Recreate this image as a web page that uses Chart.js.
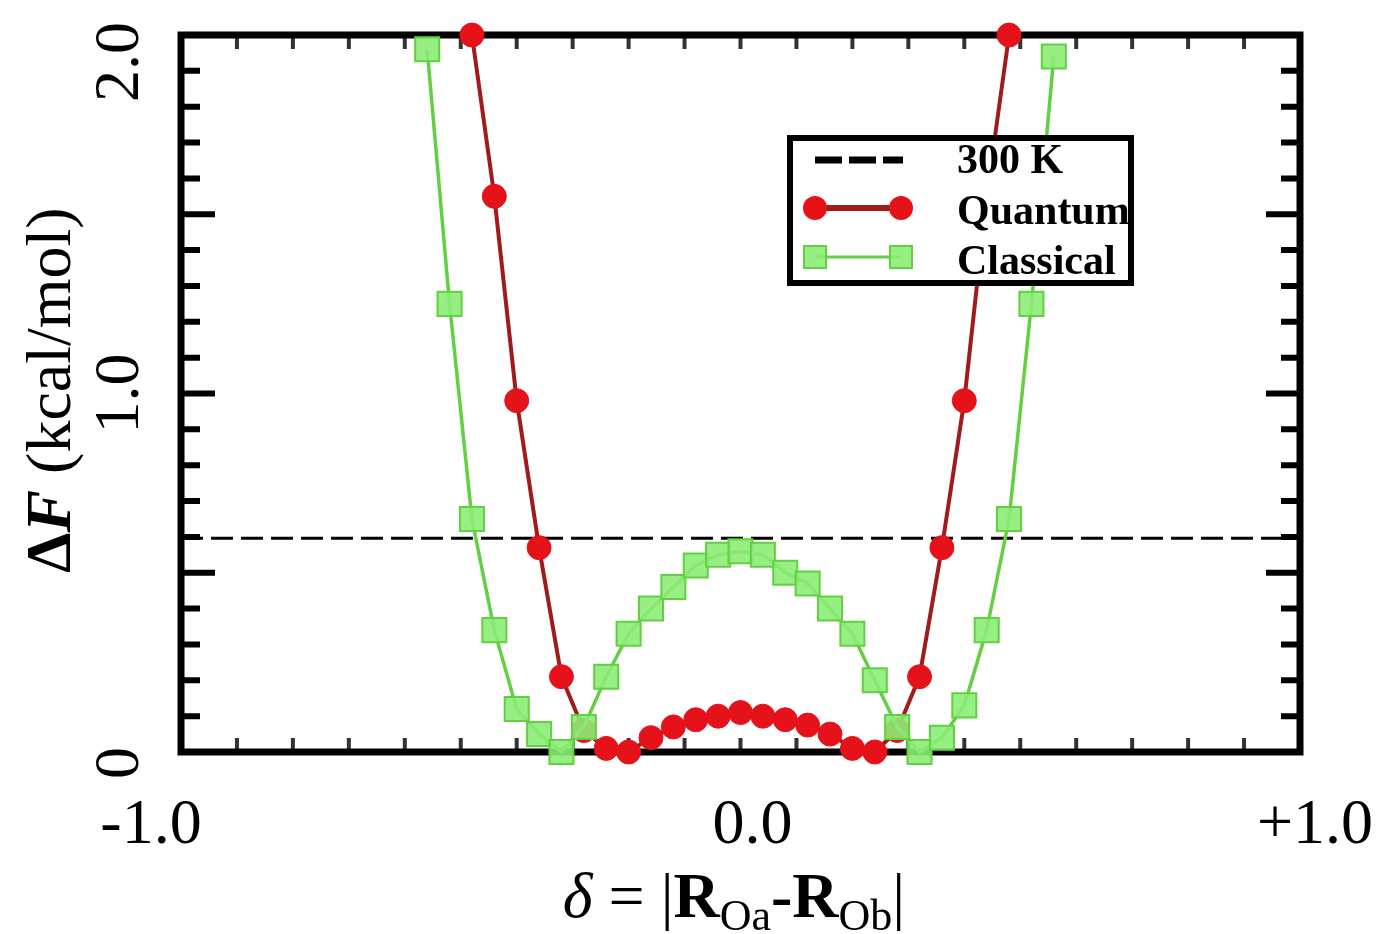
<!DOCTYPE html>
<html>
<head>
<meta charset="utf-8">
<script src="https://cdn.jsdelivr.net/npm/chart.js@4/dist/chart.umd.min.js"></script>
<style>
html, body { margin: 0; padding: 0; background: #fff; }
canvas { display: block; }
</style>
</head>
<body>
<canvas id="canvas1" width="1380" height="934"></canvas>
<script>
// delta grid and free energy (kcal/mol)
const deltaQuantum = [-0.48, -0.44, -0.40, -0.36, -0.32, -0.28, -0.24, -0.20, -0.16, -0.12, -0.08, -0.04, 0,
    0.04, 0.08, 0.12, 0.16, 0.20, 0.24, 0.28, 0.32, 0.36, 0.40, 0.44, 0.48];
const freeQuantum = [2.00, 1.55, 0.98, 0.57, 0.21, 0.06, 0.01, 0.00, 0.04, 0.07, 0.09, 0.10, 0.11,
    0.10, 0.09, 0.075, 0.05, 0.01, 0.00, 0.06, 0.21, 0.57, 0.98, 1.55, 2.00];

const deltaClassical = [-0.56, -0.52, -0.48, -0.44, -0.40, -0.36, -0.32, -0.28, -0.24, -0.20, -0.16, -0.12, -0.08, -0.04, 0,
    0.04, 0.08, 0.12, 0.16, 0.20, 0.24, 0.28, 0.32, 0.36, 0.40, 0.44, 0.48, 0.52, 0.56];
const freeClassical = [1.96, 1.25, 0.65, 0.34, 0.12, 0.05, 0.00, 0.07, 0.21, 0.33, 0.40, 0.46, 0.52, 0.55, 0.56,
    0.55, 0.50, 0.47, 0.40, 0.33, 0.20, 0.07, 0.00, 0.04, 0.13, 0.34, 0.65, 1.25, 1.94];

// thermal energy kT at 300 K
const kT300 = 0.596;

const xTickValues = [-1, 0, 1];
const xTickLabels = ['-1.0', '0.0', '+1.0'];
const yTickValues = [0, 1, 2];
const yTickLabels = ['0', '1.0', '2.0'];

const legendLabels = ['300 K', 'Quantum', 'Classical'];

const SERIF = "'Liberation Serif', 'Times New Roman', serif";
const RED_LINE = '#a01c1c';
const RED_DOT = '#e5121a';
const GREEN_LINE = '#62d040';
const GREEN_BOX = 'rgba(140, 236, 118, 0.9)';

function drawRich(ctx, parts, x, y) {
    let total = 0;
    parts.forEach(p => { ctx.font = p.font; p.w = ctx.measureText(p.t).width; total += p.w; });
    let cx = x - total / 2;
    ctx.textAlign = 'left';
    parts.forEach(p => {
        ctx.font = p.font;
        ctx.fillText(p.t, cx, y + (p.dy || 0));
        cx += p.w;
    });
}

const frameAndText = {
    id: 'frameAndText',
    beforeDatasetsDraw(chart) {
        const {ctx, chartArea: a, scales: {x, y}} = chart;
        ctx.save();
        ctx.lineCap = 'butt';

        // inward ticks, x every 0.1 on top and bottom
        ctx.strokeStyle = '#333';
        ctx.lineWidth = 4;
        for (let k = -9; k <= 9; k++) {
            const px = x.getPixelForValue(k / 10);
            ctx.beginPath();
            ctx.moveTo(px, a.bottom); ctx.lineTo(px, a.bottom - 14);
            ctx.moveTo(px, a.top); ctx.lineTo(px, a.top + 14);
            ctx.stroke();
        }
        // y every 0.1, longer at 0.5
        ctx.strokeStyle = '#000';
        ctx.lineWidth = 6;
        for (let k = 1; k < 20; k++) {
            const py = y.getPixelForValue(k / 10);
            const len = (k % 5 === 0) ? 34 : 19;
            ctx.beginPath();
            ctx.moveTo(a.left, py); ctx.lineTo(a.left + len, py);
            ctx.moveTo(a.right, py); ctx.lineTo(a.right - len, py);
            ctx.stroke();
        }

        // frame
        ctx.lineWidth = 7;
        ctx.strokeRect(a.left, a.top, a.right - a.left, a.bottom - a.top);

        // tick labels
        ctx.fillStyle = '#000';
        ctx.font = '64px ' + SERIF;
        ctx.textBaseline = 'alphabetic';
        ctx.textAlign = 'center';
        const xShift = [-30, 12, 15];
        xTickValues.forEach((v, i) => {
            ctx.fillText(xTickLabels[i], x.getPixelForValue(v) + xShift[i], 843);
        });
        const yShift = [11, 0, 27];
        ctx.textBaseline = 'middle';
        yTickValues.forEach((v, i) => {
            ctx.save();
            ctx.translate(121, y.getPixelForValue(v) + yShift[i]);
            ctx.rotate(-Math.PI / 2);
            ctx.fillText(yTickLabels[i], 0, 0);
            ctx.restore();
        });

        // axis titles
        ctx.textBaseline = 'alphabetic';
        const big = 64, sub = 44;
        drawRich(ctx, [
            {t: '\u03B4', font: 'italic ' + big + 'px ' + SERIF},
            {t: ' = ', font: big + 'px ' + SERIF},
            {t: '|', font: big + 'px ' + SERIF},
            {t: 'R', font: 'bold ' + big + 'px ' + SERIF},
            {t: 'Oa', font: sub + 'px ' + SERIF, dy: 13},
            {t: '-', font: 'bold ' + big + 'px ' + SERIF},
            {t: 'R', font: 'bold ' + big + 'px ' + SERIF},
            {t: 'Ob', font: sub + 'px ' + SERIF, dy: 13},
            {t: '|', font: big + 'px ' + SERIF}
        ], 734, 917);

        ctx.save();
        ctx.translate(70, 390);
        ctx.rotate(-Math.PI / 2);
        drawRich(ctx, [
            {t: '\u0394', font: 'bold ' + big + 'px ' + SERIF},
            {t: 'F', font: 'italic bold ' + big + 'px ' + SERIF},
            {t: ' (kcal/mol)', font: big + 'px ' + SERIF}
        ], 0, 0);
        ctx.restore();

        ctx.restore();
    },
    afterDraw(chart) {
        const ctx = chart.ctx;
        ctx.save();
        // legend box
        ctx.fillStyle = '#fff';
        ctx.fillRect(790, 138, 341, 145);
        ctx.strokeStyle = '#000';
        ctx.lineWidth = 6;
        ctx.strokeRect(790, 138, 341, 145);

        // 300 K dashes
        ctx.lineWidth = 7;
        ctx.setLineDash([27, 7]);
        ctx.beginPath();
        ctx.moveTo(815, 160); ctx.lineTo(903, 160);
        ctx.stroke();
        ctx.setLineDash([]);

        // quantum sample
        ctx.strokeStyle = RED_LINE;
        ctx.lineWidth = 6;
        ctx.beginPath();
        ctx.moveTo(815, 208); ctx.lineTo(901, 208);
        ctx.stroke();
        ctx.fillStyle = RED_DOT;
        [815, 901].forEach(px => {
            ctx.beginPath();
            ctx.arc(px, 208, 12, 0, Math.PI * 2);
            ctx.fill();
        });

        // classical sample
        ctx.strokeStyle = GREEN_LINE;
        ctx.lineWidth = 3;
        ctx.beginPath();
        ctx.moveTo(815, 257); ctx.lineTo(901, 257);
        ctx.stroke();
        ctx.fillStyle = GREEN_BOX;
        ctx.lineWidth = 2;
        [815, 901].forEach(px => {
            ctx.fillRect(px - 11, 246, 22, 22);
            ctx.strokeRect(px - 11, 246, 22, 22);
        });

        ctx.fillStyle = '#000';
        ctx.font = 'bold 42px ' + SERIF;
        ctx.textAlign = 'left';
        ctx.textBaseline = 'alphabetic';
        ctx.fillText(legendLabels[0], 957, 173);
        ctx.fillText(legendLabels[1], 957, 224);
        ctx.fillText(legendLabels[2], 957, 274);
        ctx.restore();
    }
};

const classical = {
    label: legendLabels[2],
    data: deltaClassical.map((d, i) => ({x: d, y: freeClassical[i]})),
    borderColor: GREEN_LINE,
    borderWidth: 3.5,
    pointStyle: 'rect',
    pointRadius: 17,
    pointBackgroundColor: GREEN_BOX,
    pointBorderColor: GREEN_LINE,
    pointBorderWidth: 2,
    clip: false
};

const quantum = {
    label: legendLabels[1],
    data: deltaQuantum.map((d, i) => ({x: d, y: freeQuantum[i]})),
    borderColor: RED_LINE,
    borderWidth: 4,
    pointStyle: 'circle',
    pointRadius: 12,
    pointBackgroundColor: RED_DOT,
    pointBorderColor: RED_DOT,
    pointBorderWidth: 1,
    clip: false
};

const thermal = {
    label: legendLabels[0],
    data: [{x: -1, y: kT300}, {x: 1, y: kT300}],
    borderColor: '#000',
    borderWidth: 3,
    borderDash: [22, 8],
    pointRadius: 0
};

const ctx = document.getElementById('canvas1');
const chart = new Chart(ctx, {
    type: 'line',
    data: {
        datasets: [classical, quantum, thermal]
    },
    options: {
        responsive: false,
        animation: false,
        events: [],
        layout: {
            padding: {left: 181, right: 80, top: 35, bottom: 182}
        },
        scales: {
            x: {type: 'linear', min: -1, max: 1, display: false},
            y: {type: 'linear', min: 0, max: 2, display: false}
        },
        plugins: {
            legend: {display: false},
            tooltip: {enabled: false}
        }
    },
    plugins: [frameAndText]
});
</script>
</body>
</html>
